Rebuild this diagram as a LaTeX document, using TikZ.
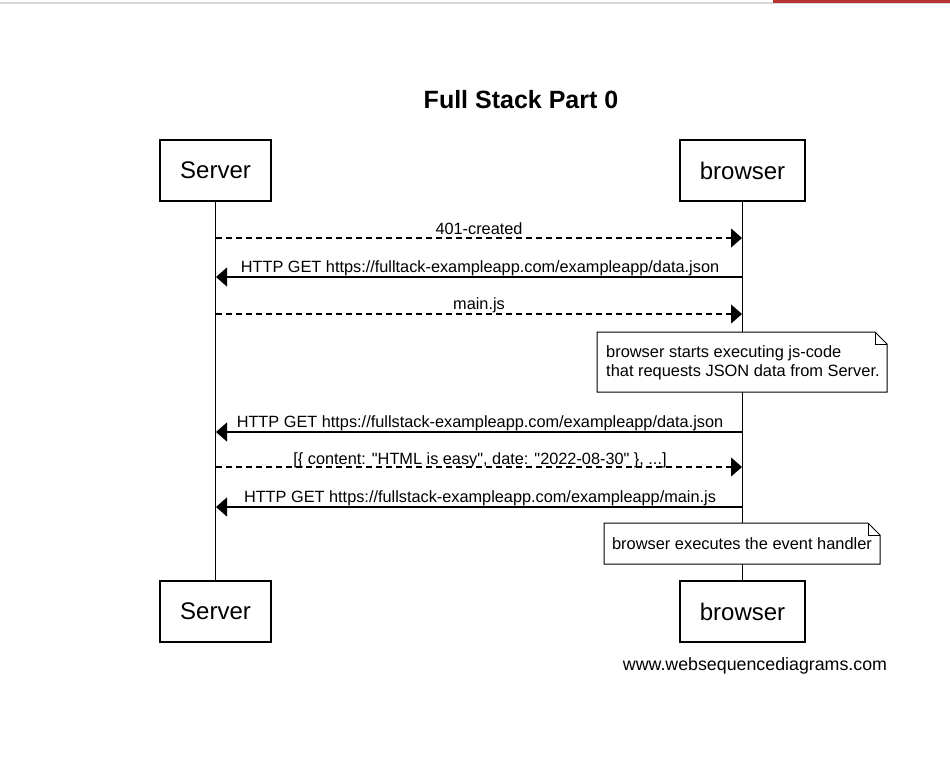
\documentclass[tikz,border=0pt]{standalone}
\usepackage{fontspec}
\setmainfont{Liberation Sans}[Ligatures=TeXOff]
\usetikzlibrary{arrows.meta}
\begin{document}
\begin{tikzpicture}[x=1pt,y=-1pt,
  actor/.style={draw=black,line width=1.1pt,fill=white,minimum height=61pt,inner sep=0pt,font=\fontsize{24}{28}\selectfont},
  life/.style={draw=black,line width=1.1pt},
  msg/.style={line width=1.1pt,-{Triangle[length=11pt,width=19pt]}},
  reply/.style={msg,dash pattern=on 6pt off 4pt},
  lbl/.style={font=\fontsize{16.3}{18}\selectfont,inner sep=0pt,anchor=base},
  notebox/.style={draw=black,line width=1pt,fill=white},
  notetxt/.style={font=\fontsize{16.4}{19.5}\selectfont,align=left,inner sep=0pt,anchor=north west}]
\useasboundingbox (0,0) rectangle (950,756);
\fill[white] (0,0) rectangle (950,756);
\fill[black!15] (0,1.5) rectangle (950,3.5);
\fill[red!65!black!80] (773,0) rectangle (950,2.5);
% title
\node[font=\bfseries\fontsize{25}{28}\selectfont] (title) at (521,100) {Full Stack Part 0};
% actors
\node[actor,minimum width=111pt] (sT) at (215.5,170.5) {Server};
\node[actor,minimum width=125pt] (bT) at (742.5,170.5) {browser};
\node[actor,minimum width=111pt] (sB) at (215.5,611.5) {Server};
\node[actor,minimum width=125pt] (bB) at (742.5,611.5) {browser};
% lifelines
\draw[life] (sT.south) -- (sB.north);
\draw[life] (bT.south) -- (bB.north);
% message end points
\foreach \n/\y in {1/238,2/277,3/314,5/432,6/467,7/507}{
  \coordinate (s\n) at (216,\y);
  \coordinate (b\n) at (742,\y);
}
% messages
\draw[reply] (s1) -- (b1);
\node[lbl] (l1) at (479,234) {401-created};
\draw[msg] (b2) -- (s2);
\node[lbl] (l2) at (480,272) {HTTP GET https://fulltack-exampleapp.com/exampleapp/data.json};
\draw[reply] (s3) -- (b3);
\node[lbl] (l3) at (479,309) {main.js};
% note 1
\draw[notebox] (597,332) -- (875,332) -- (887,344) -- (887,392) -- (597,392) -- cycle;
\draw[line width=1pt] (875,332) -- (875,344) -- (887,344);
\node[notetxt] (n1) at (606,345) {browser starts executing js-code\\that requests JSON data from Server.};
\draw[msg] (b5) -- (s5);
\node[lbl] (l5) at (480,427) {HTTP GET https://fullstack-exampleapp.com/exampleapp/data.json};
\draw[reply] (s6) -- (b6);
\node[lbl] (l6) at (480,464) {[\{ content: "HTML is easy", date: "2022-08-30" \}, ...]};
\draw[msg] (b7) -- (s7);
\node[lbl] (l7) at (480,502) {HTTP GET https://fullstack-exampleapp.com/exampleapp/main.js};
% note 2
\draw[notebox] (604,523) -- (868,523) -- (880,535) -- (880,564) -- (604,564) -- cycle;
\draw[line width=1pt] (868,523) -- (868,535) -- (880,535);
\node[font=\fontsize{16.4}{18}\selectfont,inner sep=0pt] (n2) at (742,544) {browser executes the event handler};
% footer
\node[font=\fontsize{17.8}{20}\selectfont,inner sep=0pt] (foot) at (755,666) {www.websequencediagrams.com};
\end{tikzpicture}
\end{document}
